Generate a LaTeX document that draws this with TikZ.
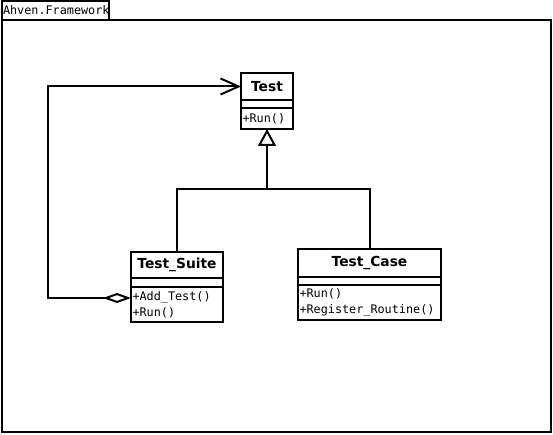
\documentclass[tikz,border=0pt]{standalone}
\usepackage{fontspec}
\setmainfont{DejaVu Sans}
\newfontfamily\monofont{DejaVu Sans Mono}
\usetikzlibrary{positioning, arrows.meta}

\begin{document}
\begin{tikzpicture}[x=1pt, y=-1pt, line width=2pt, node distance=0pt,
    cname/.style={draw, font=\fontsize{13.8}{16}\selectfont\bfseries, inner sep=0pt, outer sep=0pt},
    cattr/.style={draw, inner sep=0pt, outer sep=0pt, minimum height=8pt},
    cops/.style={draw, font=\monofont\fontsize{11.8}{16}\selectfont, inner xsep=1.5pt, inner ysep=0pt, outer sep=0pt, align=left},
    inherit/.style={-{Triangle[open, length=17pt, width=18pt]}},
    aggr/.style={{Diamond[open, length=28pt, width=10pt]}-{Straight Barb[length=18pt, width=16pt]}}]
    \useasboundingbox (0,0) rectangle (553,435);

    % package frame
    \node[draw, anchor=north west, inner sep=0pt, outer sep=0pt, minimum width=549pt, minimum height=412pt] (pkg) at (2,20) {};
    \node[draw, anchor=south west, font=\monofont\fontsize{11.8}{14}\selectfont, inner xsep=1pt, inner ysep=0pt, outer sep=0pt,
          text width=105pt, minimum height=19pt, align=left] (tab) at (pkg.north west) {Ahven.Framework};

    % classes
    \node[cname, anchor=north west, minimum width=52pt, minimum height=27pt] (testname) at (241,73) {Test};
    \node[cattr, minimum width=52pt] (testattr) [below=of testname] {};
    \node[cops, text width=49pt, minimum height=21pt] (testops) [below=of testattr] {+Run()};

    \node[cname, anchor=north west, minimum width=92pt, minimum height=26pt] (suitename) at (131,252) {Test\_Suite};
    \node[cattr, minimum width=92pt, minimum height=9pt] (suiteattr) [below=of suitename] {};
    \node[cops, text width=89pt, minimum height=35pt] (suiteops) [below=of suiteattr] {+Add\_Test()\\+Run()};

    \node[cname, anchor=north west, minimum width=143pt, minimum height=28pt] (casename) at (298,249) {Test\_Case};
    \node[cattr, minimum width=143pt] (caseattr) [below=of casename] {};
    \node[cops, text width=140pt, minimum height=35pt] (caseops) [below=of caseattr] {+Run()\\+Register\_Routine()};

    % relations
    \coordinate (fork) at (267,189);
    \draw[inherit] (suitename.north) |- (fork) -- (testops.south);
    \draw (casename.north) |- (fork);
    \draw[aggr] ([yshift=6.5pt]suiteops.west) -- ++(-83,0) |- (testname.west);
\end{tikzpicture}
\end{document}
